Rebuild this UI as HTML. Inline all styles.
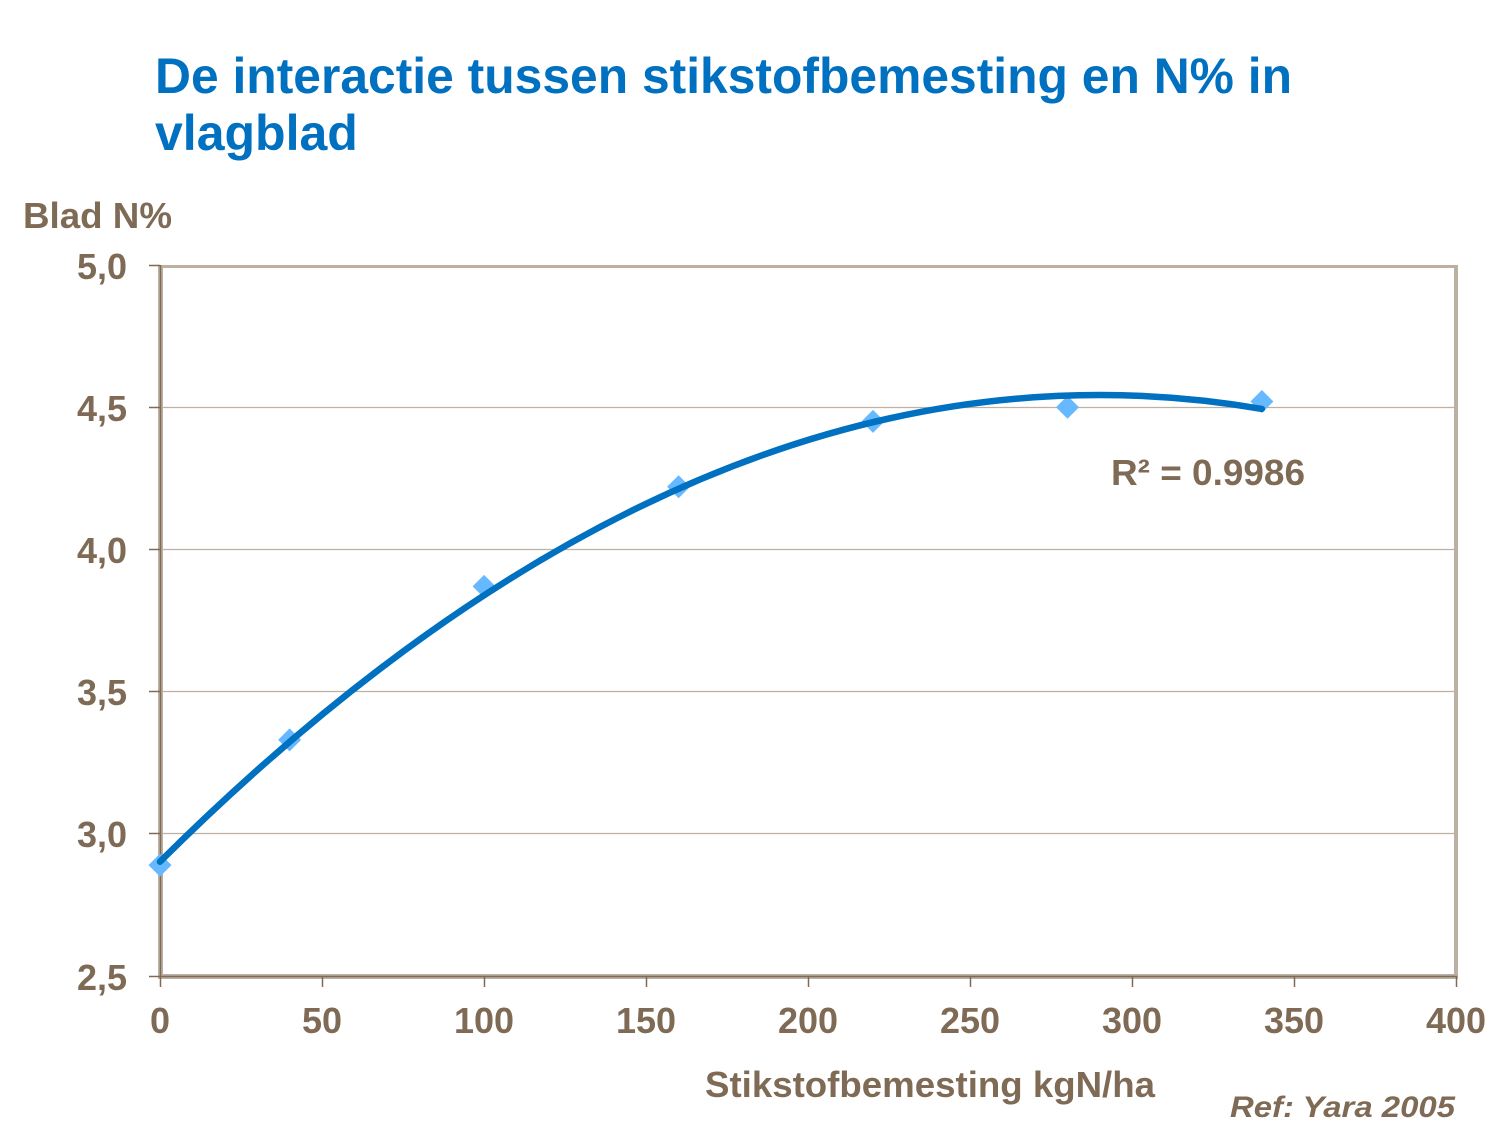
<!DOCTYPE html>
<html>
<head>
<meta charset="utf-8">
<style>
  html, body { margin: 0; padding: 0; background: #ffffff; }
  svg { display: block; }
  text { font-family: "Liberation Sans", Arial, sans-serif; font-weight: bold; }
</style>
</head>
<body>
<svg width="1500" height="1125" viewBox="0 0 1500 1125" xmlns="http://www.w3.org/2000/svg">
  <rect x="0" y="0" width="1500" height="1125" fill="#ffffff"/>

  <!-- Title -->
  <text x="155" y="93" font-size="50" fill="#0070c0" textLength="1137" lengthAdjust="spacingAndGlyphs">De interactie tussen stikstofbemesting en N% in</text>
  <text x="155" y="150" font-size="50" fill="#0070c0">vlagblad</text>

  <!-- Y axis title -->
  <text x="23" y="228" font-size="36" fill="#7f6b55" textLength="149" lengthAdjust="spacingAndGlyphs">Blad N%</text>

  <!-- Gridlines -->
  <g stroke="#bdb1a4" stroke-width="1.3">
    <line x1="160" y1="407.5" x2="1456" y2="407.5"/>
    <line x1="160" y1="549.5" x2="1456" y2="549.5"/>
    <line x1="160" y1="691.5" x2="1456" y2="691.5"/>
    <line x1="160" y1="833.5" x2="1456" y2="833.5"/>
  </g>

  <!-- Plot frame (light bands) -->
  <rect x="158" y="265" width="1300" height="3" fill="#bcb0a3"/>
  <rect x="1454" y="265" width="4" height="714" fill="#bcb0a3"/>
  <rect x="158" y="265" width="5" height="714" fill="#bcb0a3"/>
  <rect x="158" y="974" width="1300" height="5" fill="#bcb0a3"/>

  <!-- Axis dark lines -->
  <line x1="160.5" y1="265" x2="160.5" y2="977" stroke="#7f6b55" stroke-width="1.5"/>
  <line x1="160" y1="976.5" x2="1457" y2="976.5" stroke="#7f6b55" stroke-width="1.5"/>

  <!-- Y ticks -->
  <g stroke="#7f6b55" stroke-width="1.5">
    <line x1="149" y1="265.5" x2="160" y2="265.5"/>
    <line x1="149" y1="407.5" x2="160" y2="407.5"/>
    <line x1="149" y1="549.5" x2="160" y2="549.5"/>
    <line x1="149" y1="691.5" x2="160" y2="691.5"/>
    <line x1="149" y1="833.5" x2="160" y2="833.5"/>
    <line x1="149" y1="976.5" x2="160" y2="976.5"/>
  </g>
  <!-- X ticks -->
  <g stroke="#7f6b55" stroke-width="1.5">
    <line x1="160.5" y1="976" x2="160.5" y2="987"/>
    <line x1="322.5" y1="976" x2="322.5" y2="987"/>
    <line x1="484.5" y1="976" x2="484.5" y2="987"/>
    <line x1="646.5" y1="976" x2="646.5" y2="987"/>
    <line x1="808.5" y1="976" x2="808.5" y2="987"/>
    <line x1="970.5" y1="976" x2="970.5" y2="987"/>
    <line x1="1132.5" y1="976" x2="1132.5" y2="987"/>
    <line x1="1294.5" y1="976" x2="1294.5" y2="987"/>
    <line x1="1456.5" y1="976" x2="1456.5" y2="987"/>
  </g>

  <!-- Y tick labels -->
  <g font-size="36" fill="#7f6b55" text-anchor="end">
    <text x="127" y="279">5,0</text>
    <text x="127" y="421">4,5</text>
    <text x="127" y="563">4,0</text>
    <text x="127" y="705">3,5</text>
    <text x="127" y="847">3,0</text>
    <text x="127" y="990">2,5</text>
  </g>

  <!-- X tick labels -->
  <g font-size="36" fill="#7f6b55" text-anchor="middle">
    <text x="160" y="1033">0</text>
    <text x="322" y="1033">50</text>
    <text x="484" y="1033">100</text>
    <text x="646" y="1033">150</text>
    <text x="808" y="1033">200</text>
    <text x="970" y="1033">250</text>
    <text x="1132" y="1033">300</text>
    <text x="1294" y="1033">350</text>
    <text x="1456" y="1033">400</text>
  </g>

  <!-- X axis title -->
  <text x="705" y="1097" font-size="36" fill="#7f6b55" textLength="450" lengthAdjust="spacingAndGlyphs">Stikstofbemesting kgN/ha</text>

  <!-- Markers -->
  <g fill="#66b9ff">
    <polygon points="160,853.6 171.5,865.1 160,876.6 148.5,865.1"/>
    <polygon points="289.6,728.4 301.1,739.9 289.6,751.4 278.1,739.9"/>
    <polygon points="484.1,574.9 495.6,586.4 484.1,597.9 472.6,586.4"/>
    <polygon points="678.6,475.3 690.1,486.8 678.6,498.3 667.1,486.8"/>
    <polygon points="873,409.9 884.5,421.4 873,432.9 861.5,421.4"/>
    <polygon points="1067.5,395.7 1079,407.2 1067.5,418.7 1056,407.2"/>
    <polygon points="1261.9,390 1273.4,401.5 1261.9,413 1250.4,401.5"/>
  </g>

  <!-- Trendline (quadratic) -->
  <path d="M160,861.7 Q711,314.5 1261.9,408.9" fill="none" stroke="#0070c0" stroke-width="6.5" stroke-linecap="round"/>

  <!-- R² label -->
  <text x="1111" y="485" font-size="36" fill="#7f6b55" textLength="194" lengthAdjust="spacingAndGlyphs">R² = 0.9986</text>

  <!-- Reference -->
  <text x="1230" y="1117" font-size="30" font-style="italic" fill="#7f6b55" textLength="225" lengthAdjust="spacingAndGlyphs">Ref: Yara 2005</text>
</svg>
</body>
</html>
